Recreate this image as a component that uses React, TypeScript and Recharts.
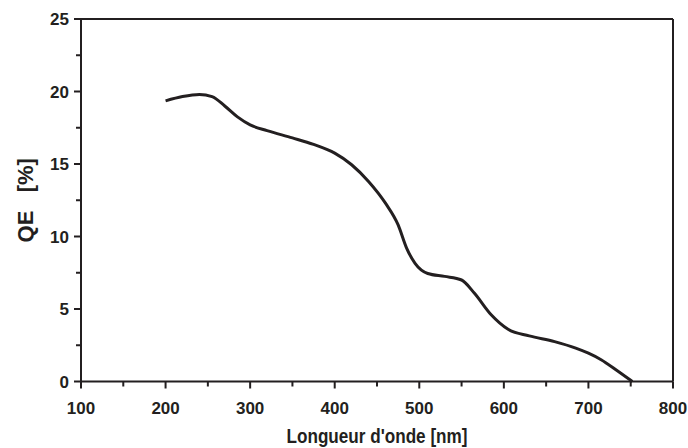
import { Line, LineChart, ReferenceLine, XAxis, YAxis } from "recharts";

const wavelengths = [
  200, 220, 240, 255, 270, 285, 300, 320, 350, 375, 400, 420, 440, 460, 475,
  485, 495, 510, 530, 550, 565, 585, 605, 630, 660, 685, 700, 715, 735, 752,
];
const qe = [
  19.35, 19.65, 19.8, 19.65, 19.0, 18.25, 17.7, 17.3, 16.8, 16.35, 15.75,
  14.95, 13.8, 12.3, 10.8, 9.2, 8.15, 7.45, 7.25, 7.0, 6.1, 4.6, 3.6, 3.15,
  2.75, 2.3, 1.95, 1.5, 0.7, 0,
];
const xTicks = [100, 150, 200, 250, 300, 350, 400, 450, 500, 550, 600, 650, 700, 750, 800];
const yTicks = [0, 2.5, 5, 7.5, 10, 12.5, 15, 17.5, 20, 22.5, 25];
const xTitle = "Longueur d'onde [nm]";
const yTitle = "QE\u00A0\u00A0 [%]";

const data = wavelengths.map((w, i) => ({ w, qe: qe[i] }));

const INK = "#231f20";
const FONT = "'Liberation Sans', Arial, sans-serif";

function XTick(props: any) {
  const { x, y, payload } = props;
  const major = payload.value % 100 === 0;
  return (
    <g>
      <line x1={x} y1={y} x2={x} y2={y + (major ? 7 : 5)} stroke={INK} strokeWidth={2} />
      {major && (
        <text x={x} y={y + 32} textAnchor="middle" fontFamily={FONT} fontWeight="bold" fontSize={17} fill={INK}>
          {payload.value}
        </text>
      )}
    </g>
  );
}

function YTick(props: any) {
  const { x, y, payload } = props;
  const major = payload.value % 5 === 0;
  return (
    <g>
      <line x1={x} y1={y} x2={x - (major ? 7 : 5)} y2={y} stroke={INK} strokeWidth={2} />
      {major && (
        <text x={x - 12} y={y + 6} textAnchor="end" fontFamily={FONT} fontWeight="bold" fontSize={17} fill={INK}>
          {payload.value}
        </text>
      )}
    </g>
  );
}

function XTitle(props: any) {
  const vb = props.viewBox || {};
  const cx = vb.x + vb.width / 2;
  return (
    <text
      x={cx}
      y={vb.y + vb.height - 5}
      textAnchor="middle"
      fontFamily={FONT}
      fontWeight="bold"
      fontSize={21}
      fill={INK}
      textLength={181}
      lengthAdjust="spacingAndGlyphs"
    >
      {xTitle}
    </text>
  );
}

function YTitle(props: any) {
  const vb = props.viewBox || {};
  const x = vb.x + 33;
  const cy = vb.y + vb.height / 2;
  return (
    <text
      x={x}
      y={cy}
      transform={`rotate(-90 ${x} ${cy})`}
      textAnchor="middle"
      fontFamily={FONT}
      fontWeight="bold"
      fontSize={22}
      fill={INK}
    >
      {yTitle}
    </text>
  );
}

export default function App() {
  return (
    <div style={{ position: "absolute", left: 0, top: 0, background: "#fff" }}>
      <LineChart
        width={688}
        height={448}
        data={data}
        margin={{ top: 19, right: 15, bottom: 0, left: 0 }}
      >
        <XAxis
          dataKey="w"
          type="number"
          domain={[100, 800]}
          ticks={xTicks}
          interval={0}
          height={66.5}
          tickSize={0}
          tickMargin={0}
          tickLine={false}
          tick={<XTick />}
          axisLine={{ stroke: INK, strokeWidth: 2 }}
          label={(p: any) => <XTitle {...p} />}
        />
        <YAxis
          type="number"
          domain={[0, 25]}
          ticks={yTicks}
          interval={0}
          width={81}
          tickSize={0}
          tickMargin={0}
          tickLine={false}
          tick={<YTick />}
          axisLine={{ stroke: INK, strokeWidth: 2 }}
          label={(p: any) => <YTitle {...p} />}
        />
        <ReferenceLine y={25} stroke={INK} strokeWidth={2} ifOverflow="visible" />
        <ReferenceLine x={800} stroke={INK} strokeWidth={2} ifOverflow="visible" />
        <Line
          type="monotone"
          dataKey="qe"
          stroke={INK}
          strokeWidth={3}
          dot={false}
          isAnimationActive={false}
        />
      </LineChart>
    </div>
  );
}
